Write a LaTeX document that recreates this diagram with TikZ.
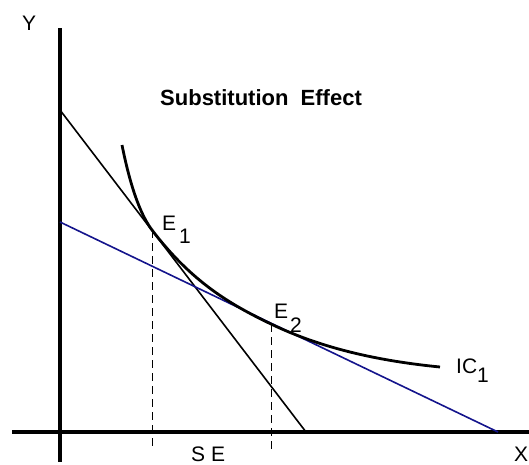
\documentclass[tikz,border=0pt]{standalone}
\usepackage{fontspec}
\setmainfont{Liberation Sans}
\begin{document}
\begin{tikzpicture}[x=1pt,y=-1pt]
\useasboundingbox (0,0) rectangle (529,464);
\definecolor{bline}{RGB}{20,20,140}
\tikzset{
  axis/.style={line width=4pt},
  budget/.style={line width=1.6pt},
  icurve/.style={line width=2.8pt},
  guide/.style={line width=0.9pt, dash pattern=on 8pt off 5pt},
  lbl/.style={font=\fontsize{21}{21}\selectfont, inner sep=0pt, anchor=base west}
}
\coordinate (Ytop) at (60,28);
\coordinate (Ybot) at (60,462);
\coordinate (Xl) at (12,432);
\coordinate (Xr) at (529,432);
\coordinate (A) at (60,110);
\coordinate (B) at (306,432);
\coordinate (C) at (60,222);
\coordinate (D) at (498,432);
\coordinate (E1) at (152,230);
\coordinate (E2) at (271,324);
\coordinate (ICs) at (122,145);
\coordinate (ICe) at (440,367);
\coordinate (F1) at (152,450);
\coordinate (F2) at (271,453);

\draw[axis] (Ytop) -- (Ybot);
\draw[axis] (Xl) -- (Xr);
\draw[budget] (A) -- (B);
\draw[budget, bline] (C) -- (D);
\draw[icurve] (ICs) .. controls (130,185) and (140,214.3) .. (E1)
  .. controls (192,282.4) and (231,304.8) .. (E2)
  .. controls (326,350.4) and (385,361.5) .. (ICe);
\draw[guide] (E1) -- (F1);
\draw[guide] (E2) -- (F2);

\node[lbl, font=\bfseries\fontsize{22}{22}\selectfont] (title) at (160,105) {Substitution\ \ Effect};
\node[lbl] (ylab) at (22,30) {Y};
\node[lbl] (xlab) at (514,461) {X};
\node[lbl] (e1lab) at (162,230) {E\hspace{3pt}\raisebox{-13pt}{1}};
\node[lbl] (e2lab) at (274,318) {E\hspace{2pt}\raisebox{-14pt}{2}};
\node[lbl] (iclab) at (456,373) {IC\raisebox{-9pt}{1}};
\node[lbl] (selab) at (191,461) {S E};
\end{tikzpicture}
\end{document}
